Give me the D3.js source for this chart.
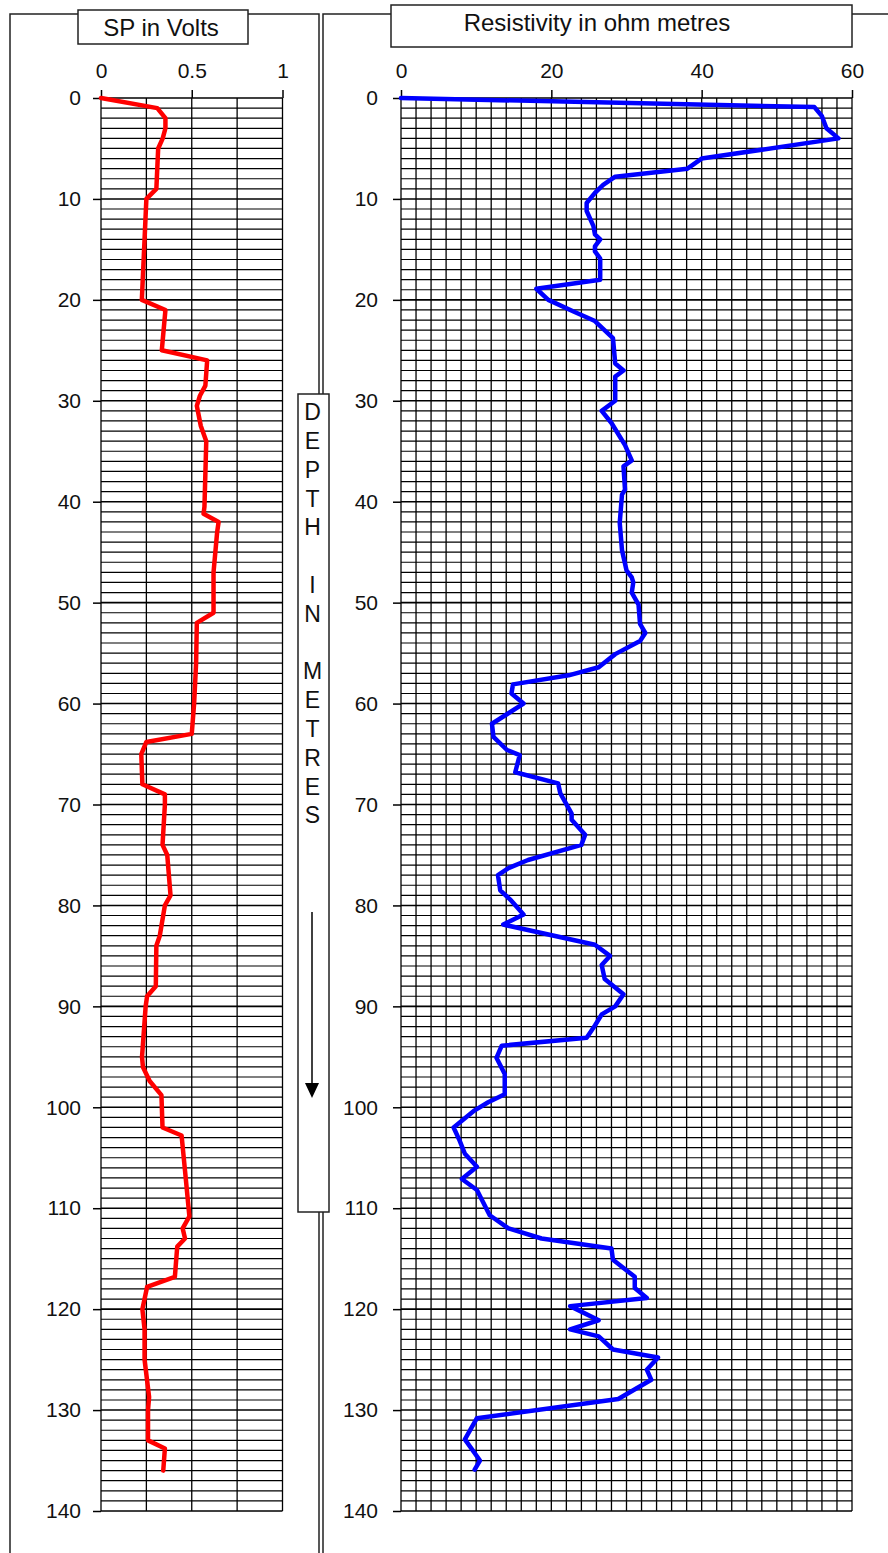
<!DOCTYPE html>
<meta charset="utf-8">
<title>SP and Resistivity log</title>
<script src="https://d3js.org/d3.v7.min.js"></script>
<style>
  body { margin: 0; background: #fff; }
  text { font-family: "Liberation Sans", Arial, sans-serif; fill: #111; }
</style>
<body>
</body>
<script>
  // depth ticks (m) and top axis ticks
  const depthTicks = [0, 10, 20, 30, 40, 50, 60, 70, 80, 90, 100, 110, 120, 130, 140];
  const spTicks = [0, 0.5, 1];
  const resTicks = [0, 20, 40, 60];

  // SP log, volts against depth in metres
  const spDepth = [0, 1, 2, 3, 4, 5, 9, 10, 14, 20, 21, 25, 26, 28.5, 29.5, 30.5, 32.5, 34, 40.5, 41.2,
    42, 43, 47, 51, 52, 56, 60, 63, 63.8, 65, 68, 69, 70, 74, 75, 79, 80, 83, 84, 88,
    89, 90, 95, 96, 97.4, 98.8, 102, 102.8, 106.3, 110.8, 112, 113, 113.8, 116.8, 117.8, 120, 122, 125, 128.7, 130,
    133, 133.8, 136];
  const spVolts = [0, 0.31, 0.355, 0.355, 0.34, 0.315, 0.305, 0.25, 0.24, 0.225, 0.355, 0.335, 0.585, 0.575, 0.545, 0.528, 0.55, 0.58, 0.57, 0.565,
    0.648, 0.64, 0.62, 0.62, 0.528, 0.524, 0.513, 0.5, 0.25, 0.222, 0.228, 0.352, 0.352, 0.339, 0.365, 0.383, 0.352, 0.324, 0.305, 0.302,
    0.254, 0.246, 0.226, 0.231, 0.268, 0.333, 0.339, 0.444, 0.463, 0.487, 0.45, 0.463, 0.42, 0.407, 0.254, 0.228, 0.24, 0.24, 0.265, 0.259,
    0.259, 0.352, 0.343];

  // resistivity log, ohm metres against depth in metres
  const resDepth = [0, 0.9, 1.8, 3, 4, 6, 7, 7.8, 8.6, 9.4, 10.4, 11.2, 12.7, 13.5, 14, 14.7, 15.2, 15.9, 18, 18.9,
    20, 21.2, 22.1, 23.8, 26.3, 27, 27.6, 30, 31, 32.2, 34.4, 35.9, 36.5, 38.8, 39.3, 42.1, 44.8, 46.8, 47.5, 48,
    49, 50.2, 52.1, 53, 53.8, 55.1, 56.4, 57.2, 58.1, 59, 60, 62, 63.3, 64.6, 65.1, 66.8, 67.9, 68.9, 70.9, 71.5,
    73, 74, 75.5, 76.3, 77, 78.5, 79.4, 80.9, 81.9, 83.9, 85, 85.9, 87.3, 88.8, 90, 90.8, 91.9, 93.1, 93.9, 95.1,
    96.7, 98.7, 99.5, 100.3, 102, 103.3, 104.6, 105.9, 107.1, 108.2, 110.7, 112, 113, 114, 115.1, 116.8, 117.9, 118.9, 119.7, 121.1,
    122, 122.7, 124, 124.8, 126, 127, 128.9, 130.8, 132.9, 135, 135.9];
  const resOhm = [0, 55, 56, 56.6, 58.2, 40, 38.1, 28.5, 26.9, 25.8, 24.7, 24.7, 25.6, 25.8, 26.5, 25.8, 25.8, 26.5, 26.5, 18,
    19.6, 23.1, 25.8, 28.2, 28.5, 29.6, 28.5, 28.5, 26.7, 28, 29.8, 30.7, 29.6, 29.8, 29.4, 29.1, 29.4, 30, 30.7, 30.9,
    30.7, 31.6, 31.8, 32.5, 31.8, 28.5, 26.3, 22.3, 14.9, 14.7, 16.3, 12.1, 12.3, 14.1, 15.8, 15.2, 20.9, 21.2, 22.7, 22.7,
    24.5, 24, 16.9, 14.3, 12.9, 13.2, 14.5, 16.3, 13.6, 25.8, 27.8, 26.7, 27.1, 29.6, 28.5, 26.7, 25.8, 24.7, 13.4, 12.7,
    13.8, 13.8, 11.6, 9.8, 7, 7.8, 8.5, 10.1, 8.1, 10.1, 11.8, 14.3, 18.7, 28, 28.2, 31.1, 31.1, 32.7, 22.5, 26.3,
    22.5, 26.3, 28.2, 34.2, 32.7, 33.3, 28.9, 10.1, 8.5, 10.5, 9.8];

  const depthLetters = ["D", "E", "P", "T", "H", "", "I", "N", "", "M", "E", "T", "R", "E", "S"];

  const width = 888, height = 1553;

  const svg = d3.select("body").append("svg")
      .attr("width", width).attr("height", height);

  const y = d3.scaleLinear().domain([0, 140]).range([98, 1511]);

  ////////////////////////////////////////////////////////////
  ////////////////////// Panel frames ////////////////////////
  ////////////////////////////////////////////////////////////

  const frame = svg.append("g")
      .attr("fill", "none").attr("stroke", "#222").attr("stroke-width", 1.5);

  // left panel
  frame.append("path").attr("d", "M10,1553 V14 H78 M248,14 H319 V1553");
  // right panel
  frame.append("path").attr("d", "M323,1553 V14 H391 M852,14 H888");

  ////////////////////////////////////////////////////////////
  //////////////////////// One track /////////////////////////
  ////////////////////////////////////////////////////////////

  function track(opts) {
    const x = d3.scaleLinear().domain(opts.domain).range(opts.range);
    const g = svg.append("g");

    // grid
    const grid = g.append("g").attr("stroke", "#000");
    grid.selectAll("line.v")
      .data(d3.range(opts.domain[0], opts.domain[1] + opts.step / 2, opts.step))
      .join("line")
        .attr("x1", d => x(d)).attr("x2", d => x(d))
        .attr("y1", y(0)).attr("y2", y(140))
        .attr("stroke-width", 1.3);
    grid.selectAll("line.h")
      .data(d3.range(0, 141, 1))
      .join("line")
        .attr("x1", x(opts.domain[0])).attr("x2", x(opts.domain[1]))
        .attr("y1", d => y(d)).attr("y2", d => y(d))
        .attr("stroke-width", d => d % 10 === 0 ? 1.6 : 1.2);

    // axes
    const top = g.append("g")
        .attr("transform", `translate(0,${y(0)})`)
        .call(d3.axisTop(x).tickValues(opts.ticks).tickSize(8).tickPadding(12).tickFormat(d3.format("")));
    const left = g.append("g")
        .attr("transform", `translate(${x(opts.domain[0])},0)`)
        .call(d3.axisLeft(y).tickValues(depthTicks).tickSize(8).tickPadding(opts.pad));
    [top, left].forEach(a => {
      a.select(".domain").remove();
      a.selectAll("line").attr("stroke", "#000").attr("stroke-width", 1.5);
      a.selectAll("text").attr("font-size", 21).attr("fill", "#111")
        .style("font-family", '"Liberation Sans", Arial, sans-serif');
    });

    // curve
    const line = d3.line().x(d => x(d[1])).y(d => y(d[0]));
    g.append("path")
      .datum(opts.depth.map((d, i) => [d, opts.values[i]]))
      .attr("d", line)
      .attr("fill", "none")
      .attr("stroke", opts.color)
      .attr("stroke-width", 4.5)
      .attr("stroke-linejoin", "round")
      .attr("stroke-linecap", "round");
  }

  track({ domain: [0, 1], range: [101, 282.5], step: 0.25, ticks: spTicks, pad: 12,
          depth: spDepth, values: spVolts, color: "#ff0000" });
  track({ domain: [0, 60], range: [401, 852], step: 2, ticks: resTicks, pad: 15,
          depth: resDepth, values: resOhm, color: "#0000ff" });

  ////////////////////////////////////////////////////////////
  ///////////////////////// Titles ///////////////////////////
  ////////////////////////////////////////////////////////////

  function titleBox(x0, y0, x1, y1, label, cx, cy) {
    svg.append("rect")
      .attr("x", x0).attr("y", y0).attr("width", x1 - x0).attr("height", y1 - y0)
      .attr("fill", "#fff").attr("stroke", "#222").attr("stroke-width", 1.5);
    svg.append("text")
      .attr("x", cx).attr("y", cy)
      .attr("dy", "0.35em")
      .attr("text-anchor", "middle")
      .attr("font-size", 24)
      .text(label);
  }
  titleBox(78, 10, 248, 44, "SP in Volts", 161, 28);
  titleBox(391, 5, 852, 47, "Resistivity in ohm metres", 597, 23);

  // depth label box
  svg.append("rect")
    .attr("x", 298).attr("y", 394).attr("width", 31).attr("height", 818)
    .attr("fill", "#fff").attr("stroke", "#222").attr("stroke-width", 1.5);
  svg.append("g").selectAll("text")
    .data(depthLetters)
    .join("text")
      .attr("x", 312.5)
      .attr("y", (d, i) => 412 + i * 28.8)
      .attr("dy", "0.36em")
      .attr("text-anchor", "middle")
      .attr("font-size", 23)
      .text(d => d);

  svg.append("line")
    .attr("x1", 312).attr("x2", 312).attr("y1", 912).attr("y2", 1086)
    .attr("stroke", "#000").attr("stroke-width", 1.5);
  svg.append("path")
    .attr("d", "M305,1083 L319,1083 L312,1098 Z")
    .attr("fill", "#000");
</script>
